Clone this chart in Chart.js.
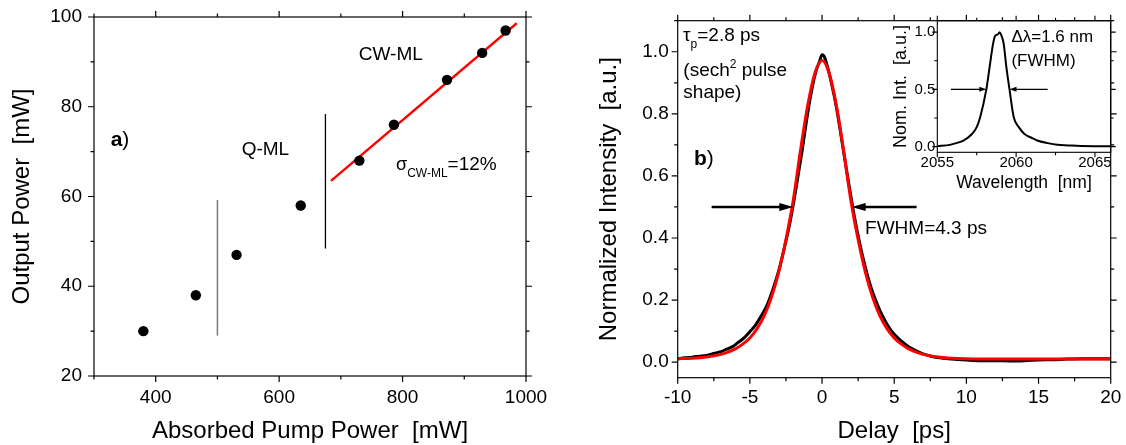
<!DOCTYPE html>
<html>
<head>
<meta charset="utf-8">
<script src="https://cdn.jsdelivr.net/npm/chart.js@4.4.1/dist/chart.umd.min.js"></script>
<style>
  html, body { margin: 0; padding: 0; background: #fff; }
  #wrap { position: relative; width: 1126px; height: 445px; overflow: hidden; }
  canvas { position: absolute; top: 0; }
  #pump { left: 0; }
  #pulse { left: 560px; }
  #spec { left: 880px; }
</style>
</head>
<body>
<div id="wrap">
  <canvas id="pump" width="560" height="445"></canvas>
  <canvas id="pulse" width="566" height="445"></canvas>
  <canvas id="spec" width="246" height="200"></canvas>
</div>
<script>
"use strict";

// a) output power vs absorbed pump power
const pumpPower = [380, 465, 531, 635, 730, 786, 872, 929, 967];
const outputPower = [30, 38, 47, 58, 68, 76, 86, 92, 97];
const fitPump = [684, 985];
const fitOutput = [63.5, 98.6];
const qmlEdgeX = [500, 500];
const qmlEdgeY = [29, 59.2];
const cwEdgeX = [675, 675];
const cwEdgeY = [48.4, 78.4];
const pumpTicks = [400, 600, 800, 1000];
const powerTicks = [20, 40, 60, 80, 100];

// b) autocorrelation trace (measured) and sech^2 fit
const delay = [-10, -9.5, -9, -8.5, -8, -7.5, -7, -6.6, -6.2, -5.8, -5.4, -5, -4.6, -4.2, -3.8,
  -3.4, -3, -2.6, -2.2, -1.8, -1.4, -1, -0.7, -0.4, -0.2, 0, 0.15, 0.3, 0.6, 1, 1.4, 1.8, 2.2,
  2.6, 3, 3.4, 3.8, 4.2, 4.6, 5, 5.5, 6, 6.5, 7, 7.5, 8, 9, 10, 11, 12, 13, 14, 15, 16, 17, 18, 19, 20];
const intensity = [0.011, 0.014, 0.016, 0.019, 0.022, 0.028, 0.034, 0.042, 0.05, 0.064, 0.078,
  0.098, 0.12, 0.15, 0.185, 0.235, 0.295, 0.37, 0.455, 0.56, 0.675, 0.8, 0.88, 0.94, 0.965, 0.99,
  0.985, 0.965, 0.91, 0.82, 0.705, 0.59, 0.48, 0.385, 0.305, 0.24, 0.19, 0.148, 0.115, 0.09, 0.068,
  0.05, 0.037, 0.027, 0.02, 0.015, 0.01, 0.007, 0.005, 0.005, 0.004, 0.005, 0.007, 0.008, 0.01,
  0.011, 0.011, 0.011];
const fitDelay = [-10, -9, -8, -7, -6, -5.5, -5, -4.5, -4, -3.5, -3, -2.5, -2, -1.5, -1, -0.5, 0,
  0.5, 1, 1.5, 2, 2.5, 3, 3.5, 4, 4.5, 5, 5.5, 6, 7, 8, 9, 10, 12, 14, 16, 18, 20];
const fitIntensity = [0.011, 0.013, 0.017, 0.025, 0.043, 0.058, 0.078, 0.108, 0.15, 0.21, 0.29,
  0.395, 0.52, 0.68, 0.825, 0.93, 0.973, 0.93, 0.825, 0.68, 0.52, 0.395, 0.29, 0.21, 0.15, 0.108,
  0.078, 0.058, 0.043, 0.025, 0.017, 0.013, 0.011, 0.01, 0.01, 0.01, 0.01, 0.01];
const delayTicks = [-10, -5, 0, 5, 10, 15, 20];
const intensityTicks = [0, 0.2, 0.4, 0.6, 0.8, 1.0];

// inset: optical spectrum
const wavelength = [2055, 2055.8, 2056.2, 2056.66, 2057.2, 2057.5, 2057.72, 2058.11, 2058.32,
  2058.54, 2058.68, 2058.84, 2058.96, 2059.07, 2059.21, 2059.38, 2059.58, 2059.85, 2060.17,
  2060.53, 2061.0, 2061.34, 2062.0, 2062.62, 2063.3, 2064.1, 2066];
const spectrum = [0.004, 0.015, 0.03, 0.053, 0.11, 0.17, 0.257, 0.5, 0.696, 0.9, 0.97, 0.98, 1.0,
  0.97, 0.9, 0.696, 0.5, 0.257, 0.17, 0.11, 0.075, 0.053, 0.03, 0.015, 0.01, 0.005, 0.003];
const wlTicks = [2055, 2060, 2065];
const normTicks = [0, 0.5, 1.0];

const FONT = '"Liberation Sans", Arial, Helvetica, sans-serif';
Chart.defaults.font.family = FONT;
Chart.defaults.color = "#000";
Chart.defaults.animation = false;
Chart.defaults.responsive = false;
Chart.defaults.devicePixelRatio = 1;
Chart.defaults.events = [];
Chart.defaults.plugins.legend.display = false;
Chart.defaults.plugins.tooltip.enabled = false;

const pts = (xs, ys) => xs.map((x, i) => ({ x, y: ys[i] }));

function axis(o) {
  return {
    type: "linear",
    position: o.position,
    min: o.min,
    max: o.max,
    afterBuildTicks: (s) => { s.ticks = o.ticks.map((v) => ({ value: v })); },
    afterFit: (s) => {
      if (o.position === "bottom") s.height = o.size; else s.width = o.size;
      s.paddingTop = 0; s.paddingBottom = 0; s.paddingLeft = 0; s.paddingRight = 0;
    },
    grid: { display: false, drawTicks: false },
    border: { display: false },
    ticks: {
      font: { size: o.font }, padding: o.pad, color: "#000",
      maxRotation: 0, autoSkip: false, callback: o.fmt,
    },
    title: {
      display: true, text: o.title, color: "#000",
      font: { size: o.titleFont, lineHeight: 1 }, padding: o.titlePad,
    },
  };
}

function eachTick(min, max, minor, major, fn) {
  for (let i = Math.ceil(min / minor - 1e-9); i * minor <= max + 1e-9; i++) {
    const v = i * minor;
    const r = v / major;
    fn(v, Math.abs(r - Math.round(r)) < 1e-6);
  }
}

// box frame with outward major/minor ticks on all four sides
function frameTicks(cfg) {
  return {
    id: "frameTicks",
    afterDraw(chart) {
      const { ctx, chartArea: a } = chart;
      const sx = chart.scales.x, sy = chart.scales.y;
      ctx.save();
      ctx.strokeStyle = "#000";
      ctx.lineWidth = cfg.width;
      ctx.strokeRect(a.left, a.top, a.right - a.left, a.bottom - a.top);
      ctx.beginPath();
      eachTick(sx.min, sx.max, cfg.x[0], cfg.x[1], (v, major) => {
        const p = sx.getPixelForValue(v), l = major ? cfg.major : cfg.minor;
        ctx.moveTo(p, a.bottom); ctx.lineTo(p, a.bottom + l);
        ctx.moveTo(p, a.top); ctx.lineTo(p, a.top - l);
      });
      eachTick(sy.min, sy.max, cfg.y[0], cfg.y[1], (v, major) => {
        const p = sy.getPixelForValue(v), l = major ? cfg.major : cfg.minor;
        ctx.moveTo(a.left, p); ctx.lineTo(a.left - l, p);
        ctx.moveTo(a.right, p); ctx.lineTo(a.right + l, p);
      });
      ctx.stroke();
      ctx.restore();
    },
  };
}

function drawArrow(ctx, x1, y1, x2, y2, lw, hl, hw) {
  const ang = Math.atan2(y2 - y1, x2 - x1);
  const c = Math.cos(ang), s = Math.sin(ang);
  const bx = x2 - hl * c, by = y2 - hl * s;
  ctx.lineWidth = lw;
  ctx.beginPath(); ctx.moveTo(x1, y1); ctx.lineTo(bx + c, by + s); ctx.stroke();
  ctx.beginPath();
  ctx.moveTo(x2, y2);
  ctx.lineTo(bx + (hw / 2) * s, by - (hw / 2) * c);
  ctx.lineTo(bx - (hw / 2) * s, by + (hw / 2) * c);
  ctx.closePath();
  ctx.fill();
}

// text labels (with sub/superscripts) and FWHM arrows placed in data units
function overlay(notes, arrows) {
  return {
    id: "overlay",
    afterDraw(chart) {
      const { ctx } = chart;
      const sx = chart.scales.x, sy = chart.scales.y;
      ctx.save();
      ctx.fillStyle = "#000";
      ctx.strokeStyle = "#000";
      ctx.textAlign = "left";
      ctx.textBaseline = "middle";
      for (const n of notes) {
        let px = sx.getPixelForValue(n.x);
        const py = sy.getPixelForValue(n.y);
        for (const [text, size, dy, bold] of n.parts) {
          ctx.font = `${bold ? "bold " : ""}${size}px ${FONT}`;
          ctx.fillText(text, px, py + dy);
          px += ctx.measureText(text).width;
        }
      }
      for (const a of arrows) {
        drawArrow(ctx, sx.getPixelForValue(a.from[0]), sy.getPixelForValue(a.from[1]),
          sx.getPixelForValue(a.to[0]), sy.getPixelForValue(a.to[1]), a.lw, a.hl, a.hw);
      }
      ctx.restore();
    },
  };
}

// ---------- a) ----------
new Chart(document.getElementById("pump"), {
  type: "scatter",
  data: {
    datasets: [
      { data: pts(pumpPower, outputPower), backgroundColor: "#000", borderColor: "#000",
        pointRadius: 5.2, pointBorderWidth: 0 },
      { data: pts(fitPump, fitOutput), showLine: true, borderColor: "#ff0000", borderWidth: 2.4,
        pointRadius: 0 },
      { data: pts(qmlEdgeX, qmlEdgeY), showLine: true, borderColor: "#7a7a7a", borderWidth: 1.5,
        pointRadius: 0 },
      { data: pts(cwEdgeX, cwEdgeY), showLine: true, borderColor: "#000", borderWidth: 1.3,
        pointRadius: 0 },
    ],
  },
  options: {
    layout: { padding: { top: 17, right: 34, bottom: 0, left: 0 } },
    scales: {
      x: axis({ position: "bottom", min: 300, max: 1000, ticks: pumpTicks, size: 69, font: 19,
        pad: 10, title: "Absorbed Pump Power  [mW]", titleFont: 24, titlePad: { top: 0, bottom: 1.5 },
        fmt: (v) => String(v) }),
      y: axis({ position: "left", min: 20, max: 100, ticks: powerTicks, size: 94, font: 19,
        pad: 12, title: "Output Power  [mW]", titleFont: 24, titlePad: { top: 10.5, bottom: 0 },
        fmt: (v) => String(v) }),
    },
  },
  plugins: [
    frameTicks({ x: [100, 200], y: [10, 20], major: 6, minor: 3.5, width: 1.2 }),
    overlay([
      { x: 327, y: 72.6, parts: [["a", 21, 0, true], [")", 21, 0, false]] },
      { x: 539.3, y: 70.4, parts: [["Q-ML", 19, 0]] },
      { x: 729, y: 91.5, parts: [["CW-ML", 19, 0]] },
      { x: 789.4, y: 67.0, parts: [["σ", 18, 0], ["CW-ML", 12, 9], ["=12%", 19, 0]] },
    ], []),
  ],
});

// ---------- b) ----------
new Chart(document.getElementById("pulse"), {
  type: "line",
  data: {
    datasets: [
      { data: pts(fitDelay, fitIntensity), borderColor: "#ff0000", borderWidth: 3,
        pointRadius: 0, cubicInterpolationMode: "monotone", fill: false },
      { data: pts(delay, intensity), borderColor: "#000", borderWidth: 3,
        pointRadius: 0, cubicInterpolationMode: "monotone", fill: false },
    ],
  },
  options: {
    layout: { padding: { top: 20.7, right: 15.3, bottom: 0, left: 0 } },
    scales: {
      x: axis({ position: "bottom", min: -10, max: 20, ticks: delayTicks, size: 67.3, font: 19,
        pad: 9, title: "Delay  [ps]", titleFont: 24, titlePad: { top: 0, bottom: 1.5 },
        fmt: (v) => String(v) }),
      y: axis({ position: "left", min: -0.05, max: 1.1, ticks: intensityTicks, size: 117.7,
        font: 19, pad: 9, title: "Normalized Intensity  [a.u.]", titleFont: 24,
        titlePad: { top: 37.7, bottom: 0 }, fmt: (v) => v.toFixed(1) }),
    },
  },
  plugins: [
    frameTicks({ x: [2.5, 5], y: [0.1, 0.2], major: 6, minor: 3.5, width: 1.2 }),
    overlay([
      { x: -9.63, y: 1.051, parts: [["τ", 19, 0], ["p", 12, 9], ["=2.8 ps", 19, 0]] },
      { x: -9.61, y: 0.939, parts: [["(sech", 19, 0], ["2", 12, -6], [" pulse", 19, 0]] },
      { x: -9.61, y: 0.867, parts: [["shape)", 19, 0]] },
      { x: -8.87, y: 0.653, parts: [["b", 21, 0, true], [")", 21, 0, false]] },
      { x: 2.98, y: 0.429, parts: [["FWHM=4.3 ps", 19, 0]] },
    ], [
      { from: [-7.65, 0.5], to: [-1.99, 0.5], lw: 2.6, hl: 14, hw: 8 },
      { from: [6.55, 0.5], to: [2.05, 0.5], lw: 2.6, hl: 14, hw: 8 },
    ]),
  ],
});

// ---------- inset spectrum ----------
new Chart(document.getElementById("spec"), {
  type: "line",
  data: {
    datasets: [
      { data: pts(wavelength, spectrum), borderColor: "#000", borderWidth: 2,
        pointRadius: 0, cubicInterpolationMode: "monotone", fill: false },
    ],
  },
  options: {
    layout: { padding: { top: 20.7, right: 15.3, bottom: 0, left: 0 } },
    scales: {
      x: axis({ position: "bottom", min: 2055, max: 2066, ticks: wlTicks, size: 47.7, font: 15,
        pad: 2, title: "Wavelength  [nm]", titleFont: 17.5, titlePad: { top: 0, bottom: 8 },
        fmt: (v) => String(v) }),
      y: axis({ position: "left", min: -0.05, max: 1.1, ticks: normTicks, size: 57.3, font: 15,
        pad: 2, title: "Nom. Int.  [a.u.]", titleFont: 18, titlePad: { top: 12.5, bottom: 0 },
        fmt: (v) => v.toFixed(1) }),
    },
  },
  plugins: [
    frameTicks({ x: [2.5, 5], y: [0.25, 0.5], major: 5, minor: 3, width: 1.1 }),
    overlay([
      { x: 2059.7, y: 0.953, parts: [["Δλ=1.6 nm", 17, 0]] },
      { x: 2059.7, y: 0.747, parts: [["(FWHM)", 17, 0]] },
    ], [
      { from: [2055.86, 0.5], to: [2058.11, 0.5], lw: 1.3, hl: 7, hw: 5 },
      { from: [2062.0, 0.5], to: [2059.58, 0.5], lw: 1.3, hl: 7, hw: 5 },
    ]),
  ],
});
</script>
</body>
</html>
